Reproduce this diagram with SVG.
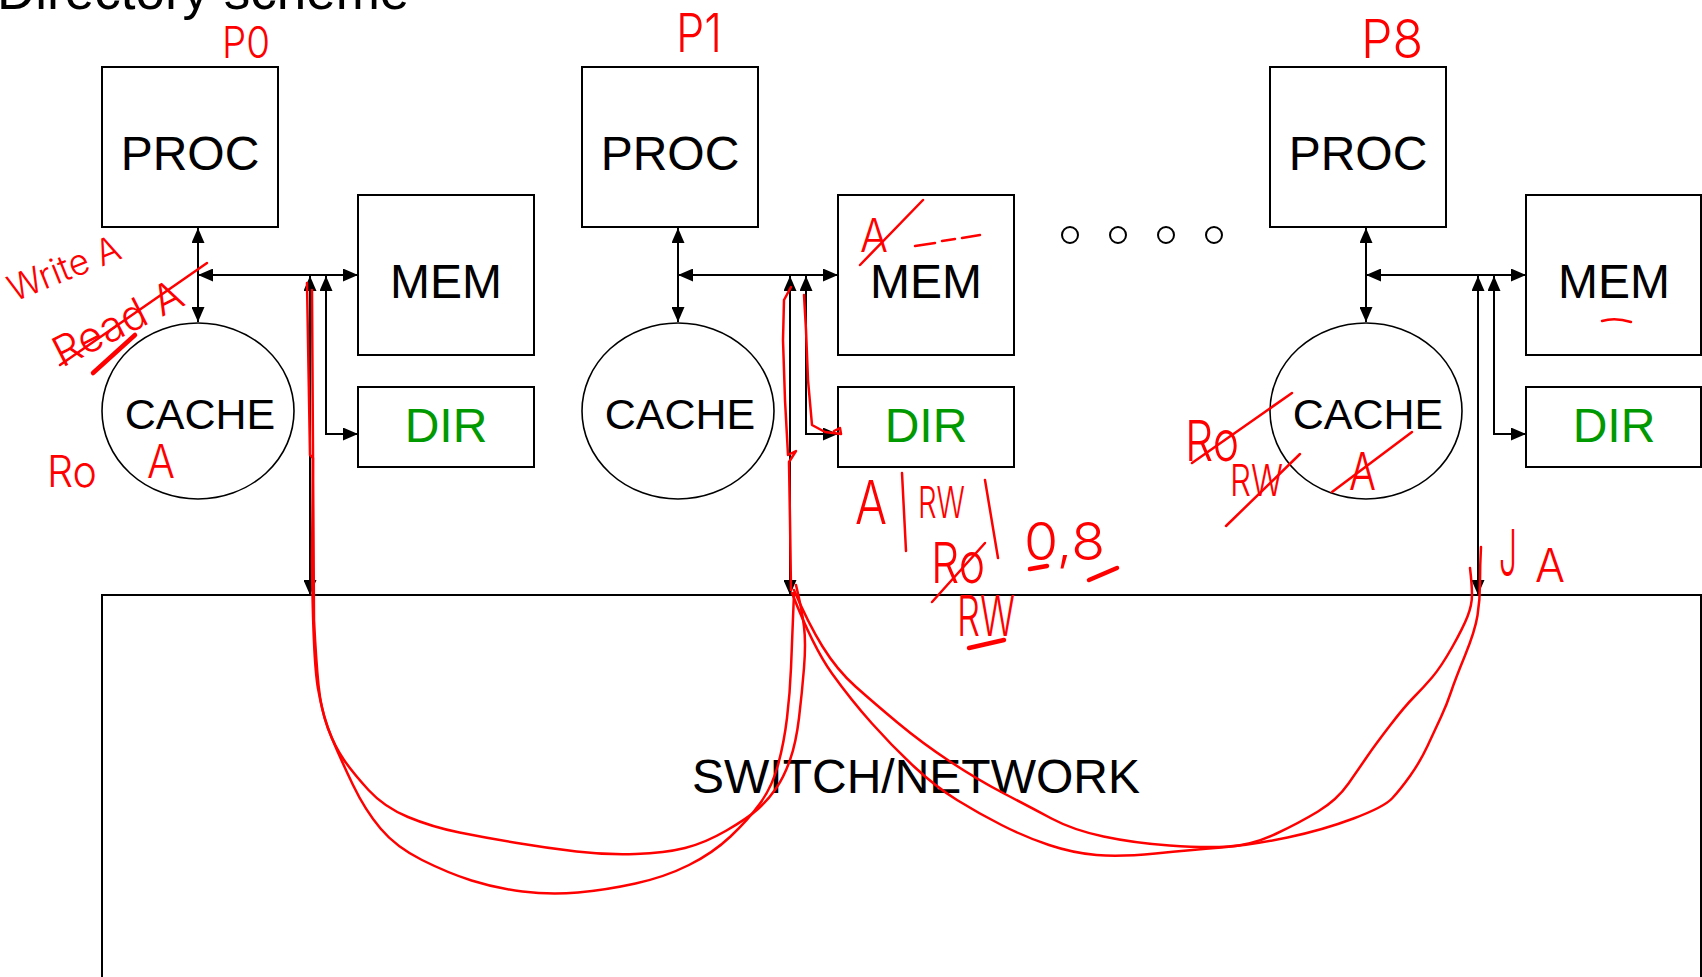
<svg xmlns="http://www.w3.org/2000/svg" width="1702" height="977" viewBox="0 0 1702 977">
<style>
.box{fill:#fff;stroke:#000;stroke-width:2}
.cache{fill:#fff;stroke:#000;stroke-width:1.6}
.lbl{font-family:"Liberation Sans",Arial,sans-serif;font-size:48px;fill:#000;text-anchor:middle}
.clbl{font-family:"Liberation Sans",Arial,sans-serif;font-size:43px;fill:#000;text-anchor:middle}
.dir{fill:#009900}
.conn{stroke:#000;stroke-width:2;fill:none}
.dot{fill:#fff;stroke:#000;stroke-width:2}
.red{stroke:#ff0000;stroke-width:2.5;fill:none;stroke-linejoin:round;stroke-linecap:round}
.redthick{stroke:#ff0000;stroke-width:4.5;fill:none;stroke-linecap:round}
.hw{font-family:Inter,"DejaVu Sans",sans-serif;font-weight:300;fill:#ff0000}
</style>
<defs>
<marker id="ah" viewBox="0 0 15 13" refX="15" refY="6.5" markerWidth="15" markerHeight="13" markerUnits="userSpaceOnUse" orient="auto-start-reverse"><path d="M0,0L15,6.5L0,13z" fill="#000"/></marker>
</defs>
<rect width="1702" height="977" fill="#fff"/>
<g id="title"><text x="-3" y="9" font-family="Liberation Sans, Arial, sans-serif" font-size="53">Directory scheme</text></g>

<g id="network"><rect class="box" x="102" y="595" width="1599" height="420"/><text class="lbl" x="916" y="793">SWITCH/NETWORK</text></g>

<g id="p0">
<g id="p0-proc"><rect class="box" x="102" y="67" width="176" height="160"/><text class="lbl" x="190" y="170">PROC</text></g>
<g id="p0-mem"><rect class="box" x="358" y="195" width="176" height="160"/><text class="lbl" x="446" y="298">MEM</text></g>
<g id="p0-dir"><rect class="box" x="358" y="387" width="176" height="80"/><text class="lbl dir" x="446" y="442">DIR</text></g>
<g id="p0-cache"><ellipse class="cache" cx="198" cy="411" rx="96" ry="88"/><text class="clbl" x="200" y="429">CACHE</text></g>
</g>
<g id="p1">
<g id="p1-proc"><rect class="box" x="582" y="67" width="176" height="160"/><text class="lbl" x="670" y="170">PROC</text></g>
<g id="p1-mem"><rect class="box" x="838" y="195" width="176" height="160"/><text class="lbl" x="926" y="298">MEM</text></g>
<g id="p1-dir"><rect class="box" x="838" y="387" width="176" height="80"/><text class="lbl dir" x="926" y="442">DIR</text></g>
<g id="p1-cache"><ellipse class="cache" cx="678" cy="411" rx="96" ry="88"/><text class="clbl" x="680" y="429">CACHE</text></g>
</g>
<g id="p8">
<g id="p8-proc"><rect class="box" x="1270" y="67" width="176" height="160"/><text class="lbl" x="1358" y="170">PROC</text></g>
<g id="p8-mem"><rect class="box" x="1526" y="195" width="175" height="160"/><text class="lbl" x="1614" y="298">MEM</text></g>
<g id="p8-dir"><rect class="box" x="1526" y="387" width="175" height="80"/><text class="lbl dir" x="1614" y="442">DIR</text></g>
<g id="p8-cache"><ellipse class="cache" cx="1366" cy="411" rx="96" ry="88"/><text class="clbl" x="1368" y="429">CACHE</text></g>
</g>
<g id="ellipsis"><circle class="dot" cx="1070" cy="235" r="8"/><circle class="dot" cx="1118" cy="235" r="8"/><circle class="dot" cx="1166" cy="235" r="8"/><circle class="dot" cx="1214" cy="235" r="8"/></g>

<g id="connectors">
<g id="c-p0">
<line class="conn" x1="198" y1="228" x2="198" y2="322" marker-start="url(#ah)" marker-end="url(#ah)"/>
<line class="conn" x1="198" y1="275" x2="358" y2="275" marker-start="url(#ah)" marker-end="url(#ah)"/>
<line class="conn" x1="310" y1="276" x2="310" y2="595" marker-start="url(#ah)" marker-end="url(#ah)"/>
<polyline class="conn" points="326,276 326,434 358,434" marker-start="url(#ah)" marker-end="url(#ah)"/>
</g>
<g id="c-p1" transform="translate(480,0)">
<line class="conn" x1="198" y1="228" x2="198" y2="322" marker-start="url(#ah)" marker-end="url(#ah)"/>
<line class="conn" x1="198" y1="275" x2="358" y2="275" marker-start="url(#ah)" marker-end="url(#ah)"/>
<line class="conn" x1="310" y1="276" x2="310" y2="595" marker-start="url(#ah)" marker-end="url(#ah)"/>
<polyline class="conn" points="326,276 326,434 358,434" marker-start="url(#ah)" marker-end="url(#ah)"/>
</g>
<g id="c-p8" transform="translate(1168,0)">
<line class="conn" x1="198" y1="228" x2="198" y2="322" marker-start="url(#ah)" marker-end="url(#ah)"/>
<line class="conn" x1="198" y1="275" x2="358" y2="275" marker-start="url(#ah)" marker-end="url(#ah)"/>
<line class="conn" x1="310" y1="276" x2="310" y2="595" marker-start="url(#ah)" marker-end="url(#ah)"/>
<polyline class="conn" points="326,276 326,434 358,434" marker-start="url(#ah)" marker-end="url(#ah)"/>
</g>
</g>

<g id="red-paths">
<path class="red" d="M307,283 L310,455 L313,458 L314,620 Q316,660 318.5,685 Q321,710 328,728.5 Q335,747 344,760 Q353,773 368.5,790 Q384,807 408,817 Q432,827 459.5,832.5 Q487,838 517,843 Q547,848 576.5,851.5 Q606,855 635.5,854 Q665,853 685,848 Q705,843 726.5,830.5 Q748,818 758,809 Q768,800 776,788.5 Q784,777 790,760 Q796,743 799,718 Q802,693 804,668 Q806,643 804,626.5 Q802,610 796,585"/>
<path class="red" d="M312,290 L313,455 L312,560 Q313,660 318,688.5 Q323,717 332,738.5 Q341,760 353,785 Q365,810 380.5,828.5 Q396,847 422,860 Q448,873 471.5,880.5 Q495,888 522.5,891.5 Q550,895 578,892.5 Q606,890 635.5,883.5 Q665,877 689,865 Q713,853 730.5,836.5 Q748,820 760,803.5 Q772,787 778,765 Q784,743 787,718 Q790,693 791,668 Q792,643 794,593"/>
<polyline class="red" points="791,287 784,300 783,340 785,400 788,455 796,451 789,462 790,520 791,590"/>
<polyline class="red" points="804,295 806,330 808,380 812,425 825,432 841,434 840,428 834,431"/>
<path class="red" d="M794,590 Q808,623 822.5,646.5 Q837,670 855.5,686.5 Q874,703 898,723 Q922,743 950,761.5 Q978,780 1004,793.5 Q1030,807 1051.5,818.5 Q1073,830 1103.5,836.5 Q1134,843 1169.5,845.5 Q1205,848 1228.5,846.5 Q1252,845 1275.5,834 Q1299,823 1318,811.5 Q1337,800 1348.5,783.5 Q1360,767 1367.5,756 Q1375,745 1390,725.5 Q1405,706 1414,697 Q1423,688 1432,677.5 Q1441,667 1452,647.5 Q1463,628 1467.5,616.5 Q1472,605 1472,595 Q1472,585 1470,568"/>
<path class="red" d="M792,593 Q813,647 832,673.5 Q851,700 872,723.5 Q893,747 914.5,767 Q936,787 957,800 Q978,813 1001.5,825 Q1025,837 1049,845 Q1073,853 1096.5,855 Q1120,857 1155.5,853.5 Q1191,850 1221.5,847.5 Q1252,845 1287.5,837.5 Q1323,830 1353.5,818.5 Q1384,807 1392,798.5 Q1400,790 1410,776 Q1420,762 1427.5,746 Q1435,730 1441,717 Q1447,704 1451,692 Q1455,680 1465,655.5 Q1475,631 1477.5,615.5 Q1480,600 1480,582.5 Q1480,565 1481,547"/>
<path class="red" d="M1602,321 Q1615,317 1631,322"/>
<line class="red" x1="60" y1="365" x2="207" y2="263"/>
<line class="redthick" x1="93" y1="373" x2="135" y2="335"/>
<line class="red" x1="860" y1="265" x2="923" y2="200"/>
<line class="red" x1="915" y1="246" x2="935" y2="243"/>
<line class="red" x1="942" y1="241" x2="955" y2="239"/>
<line class="red" x1="962" y1="238" x2="980" y2="235"/>
<line class="red" x1="902" y1="473" x2="906" y2="551"/>
<line class="red" x1="985" y1="480" x2="998" y2="558"/>
<line class="red" x1="932" y1="602" x2="985" y2="543"/>
<line class="redthick" x1="1030" y1="569" x2="1047" y2="566"/>
<line class="redthick" x1="1089" y1="580" x2="1117" y2="568"/>
<line class="redthick" x1="969" y1="648" x2="1004" y2="640"/>
<line class="red" x1="1192" y1="463" x2="1292" y2="393"/>
<line class="red" x1="1226" y1="526" x2="1300" y2="454"/>
<line class="red" x1="1332" y1="492" x2="1412" y2="432"/>
</g>

<g id="red-notes" class="hw">
<text x="222" y="58" font-size="44" textLength="48" lengthAdjust="spacingAndGlyphs">P0</text>
<text x="676" y="52" font-size="54" textLength="46" lengthAdjust="spacingAndGlyphs">P1</text>
<text x="1361" y="58" font-size="54" textLength="62" lengthAdjust="spacingAndGlyphs">P8</text>
<text x="14" y="302" font-size="36" textLength="118" lengthAdjust="spacingAndGlyphs" transform="rotate(-22 14 302)">Write A</text>
<text x="62" y="368" font-size="42" textLength="140" lengthAdjust="spacingAndGlyphs" transform="rotate(-27 62 368)">Read A</text>
<text x="47" y="487" font-size="44" textLength="50" lengthAdjust="spacingAndGlyphs">Ro</text>
<text x="147" y="478" font-size="46" textLength="28" lengthAdjust="spacingAndGlyphs">A</text>
<text x="860" y="252" font-size="46" textLength="28" lengthAdjust="spacingAndGlyphs">A</text>
<text x="855" y="524" font-size="60" textLength="32" lengthAdjust="spacingAndGlyphs">A</text>
<text x="918" y="518" font-size="44" textLength="47" lengthAdjust="spacingAndGlyphs">RW</text>
<text x="931" y="583" font-size="56" textLength="54" lengthAdjust="spacingAndGlyphs">Ro</text>
<text x="1024" y="560" font-size="52" textLength="81" lengthAdjust="spacingAndGlyphs">0,8</text>
<text x="957" y="636" font-size="56" textLength="58" lengthAdjust="spacingAndGlyphs">RW</text>
<text x="1185" y="461" font-size="56" textLength="54" lengthAdjust="spacingAndGlyphs">Ro</text>
<text x="1230" y="496" font-size="44" textLength="53" lengthAdjust="spacingAndGlyphs">RW</text>
<text x="1349" y="490" font-size="52" textLength="27" lengthAdjust="spacingAndGlyphs">A</text>
<text x="1499" y="576" font-size="64" textLength="18" lengthAdjust="spacingAndGlyphs">J</text>
<text x="1535" y="582" font-size="46" textLength="30" lengthAdjust="spacingAndGlyphs">A</text>
</g>
</svg>
